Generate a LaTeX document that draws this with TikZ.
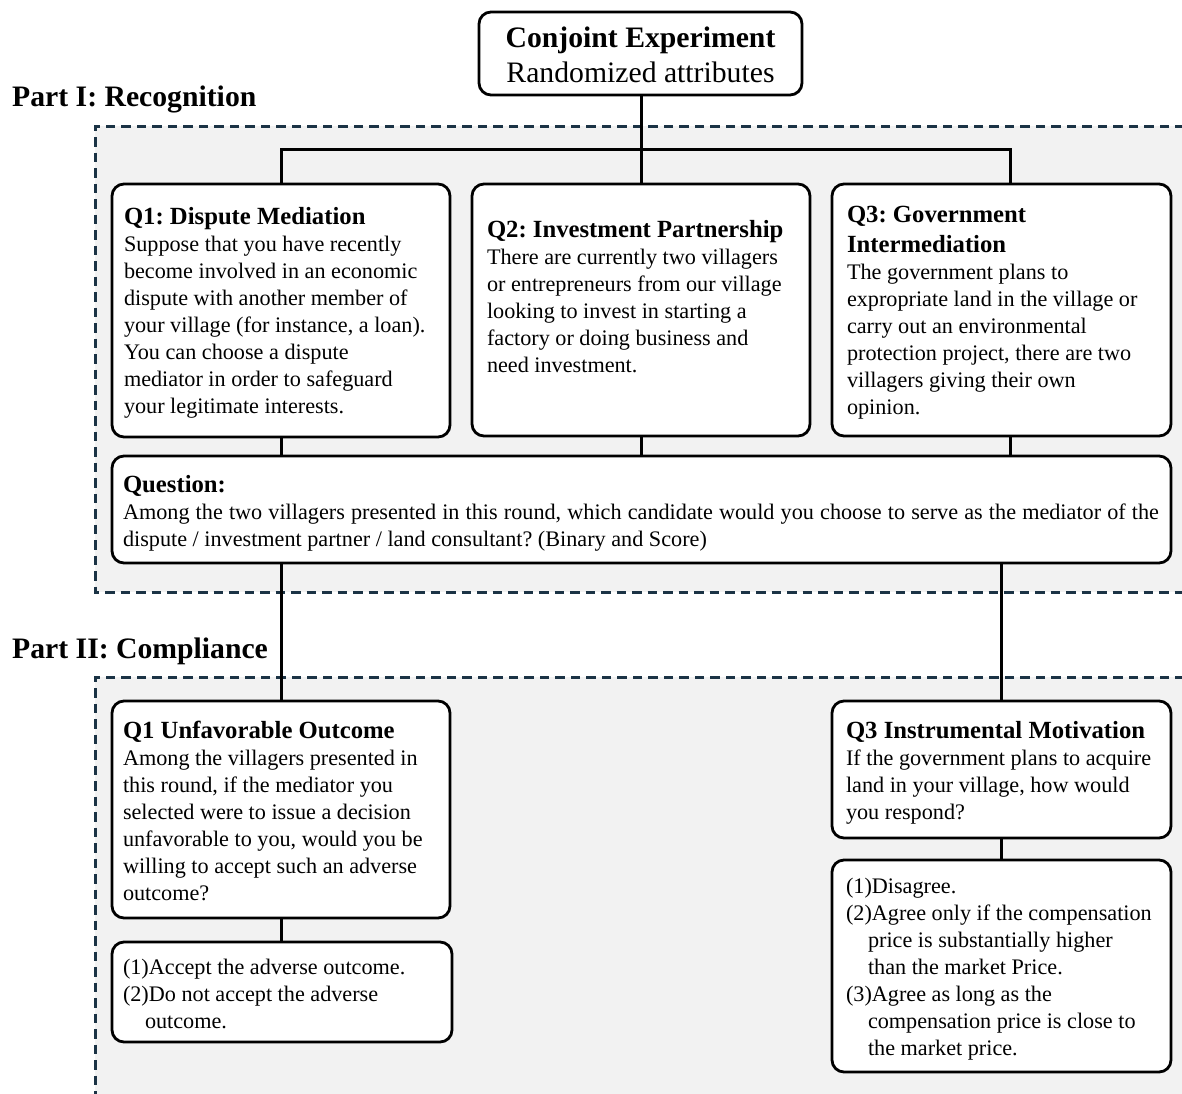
\documentclass[tikz,border=0pt]{standalone}
\usepackage{fontspec}
\setmainfont{Liberation Serif}
\definecolor{navy}{HTML}{1B3345}
\definecolor{bggray}{HTML}{F2F2F2}
\newcommand{\titf}{\fontsize{24.7}{30}\selectfont\bfseries}
\newcommand{\bodyf}{\fontsize{22.2}{27}\selectfont\frenchspacing}
\newcommand{\partf}{\fontsize{29.7}{35}\selectfont\bfseries}
\newcommand{\topf}{\fontsize{29.7}{35}\selectfont}
\tikzset{
  box/.style={draw=black, line width=2.8pt, rounded corners=12pt, fill=white,
    inner sep=0pt, outer sep=0pt, anchor=north west},
  txt/.style={anchor=base west, inner sep=0pt, outer sep=0pt, align=flush left,
    text width=#1, font=\bodyf},
  txt/.default=400pt,
  conn/.style={line width=3pt, draw=black},
  region/.style={draw=navy, line width=3pt, dash pattern=on 9.5pt off 6pt}
}
\begin{document}
\begin{tikzpicture}[x=1pt,y=-1pt]
\useasboundingbox (0,0) rectangle (1182,1093);
\fill[white] (0,0) rectangle (1182,1093);

% regions
\fill[bggray] (95,126) rectangle (1200,592);
\draw[region] (1200,126) -- (95,126) -- (95,592) -- (1200,592);
\fill[bggray] (95,677) rectangle (1200,1110);
\draw[region] (1200,677) -- (95,677) -- (95,1110);

% part labels
\node[anchor=base west, inner sep=0pt, font=\partf] (p1) at (12,106) {Part I: Recognition};
\node[anchor=base west, inner sep=0pt, font=\partf] (p2) at (12,658) {Part II: Compliance};

% boxes
\node[box, minimum width=323pt, minimum height=83pt] (top) at (479,12) {};
\node[box, minimum width=338pt, minimum height=253pt] (q1) at (112,184) {};
\node[box, minimum width=338pt, minimum height=252pt] (q2) at (472,184) {};
\node[box, minimum width=339pt, minimum height=252pt] (q3) at (832,184) {};
\node[box, minimum width=1059pt, minimum height=107pt] (ques) at (112,456) {};
\node[box, minimum width=338pt, minimum height=217pt] (u1) at (112,701) {};
\node[box, minimum width=340pt, minimum height=100pt] (c1) at (112,942) {};
\node[box, minimum width=339pt, minimum height=137pt] (m3) at (832,701) {};
\node[box, minimum width=339pt, minimum height=212pt] (c3) at (832,860) {};

% connector x positions
\coordinate (xa) at (281,0);
\coordinate (xb) at (641,0);
\coordinate (xc) at (1010,0);
\coordinate (xd) at (1001,0);
\coordinate (hy) at (0,149);

% connectors
\draw[conn] (top.south -| xb) -- (q2.north -| xb);
\draw[conn] (q1.north -| xa) -- (hy -| xa) -- (hy -| xc) -- (q3.north -| xc);
\draw[conn] (q1.south -| xa) -- (ques.north -| xa);
\draw[conn] (q2.south -| xb) -- (ques.north -| xb);
\draw[conn] (q3.south -| xc) -- (ques.north -| xc);
\draw[conn] (ques.south -| xa) -- (u1.north -| xa);
\draw[conn] (ques.south -| xd) -- (m3.north -| xd);
\draw[conn] (u1.south -| xa) -- (c1.north -| xa);
\draw[conn] (m3.south -| xd) -- (c3.north -| xd);

% texts
\node[anchor=base, inner sep=0pt, align=flush center, text width=320pt, font=\topf] (ttop) at (640.5,47)
  {\textbf{Conjoint Experiment}\\Randomized attributes};

\node[txt] (tq1) at (124,224) {{\titf Q1: Dispute Mediation\par}
Suppose that you have recently\\
become involved in an economic\\
dispute with another member of\\
your village (for instance, a loan).\\
You can choose a dispute\\
mediator in order to safeguard\\
your legitimate interests.};

\node[txt] (tq2) at (487,237) {{\titf Q2: Investment Partnership\par}
There are currently two villagers\\
or entrepreneurs from our village\\
looking to invest in starting a\\
factory or doing business and\\
need investment.};

\node[txt] (tq3) at (847,222) {{\titf Q3: Government\\Intermediation\par}
The government plans to\\
expropriate land in the village or\\
carry out an environmental\\
protection project, there are two\\
villagers giving their own\\
opinion.};

\node[txt=1100pt] (tques) at (123,492) {{\titf Question:\par}
\makebox[1036pt][s]{Among the two villagers presented in this round, which candidate would you choose to serve as the mediator of the}\\
dispute / investment partner / land consultant? (Binary and Score)};

\node[txt] (tu1) at (123,738) {{\titf Q1 Unfavorable Outcome\par}
Among the villagers presented in\\
this round, if the mediator you\\
selected were to issue a decision\\
unfavorable to you, would you be\\
willing to accept such an adverse\\
outcome?};

\node[txt] (tc1) at (123,974) {(1)Accept the adverse outcome.\\
(2)Do not accept the adverse\\
\hspace*{22pt}outcome.};

\node[txt] (tm3) at (846,738) {{\titf Q3 Instrumental Motivation\par}
If the government plans to acquire\\
land in your village, how would\\
you respond?};

\node[txt] (tc3) at (846,893) {(1)Disagree.\\
(2)Agree only if the compensation\\
\hspace*{22pt}price is substantially higher\\
\hspace*{22pt}than the market Price.\\
(3)Agree as long as the\\
\hspace*{22pt}compensation price is close to\\
\hspace*{22pt}the market price.};
\end{tikzpicture}
\end{document}
